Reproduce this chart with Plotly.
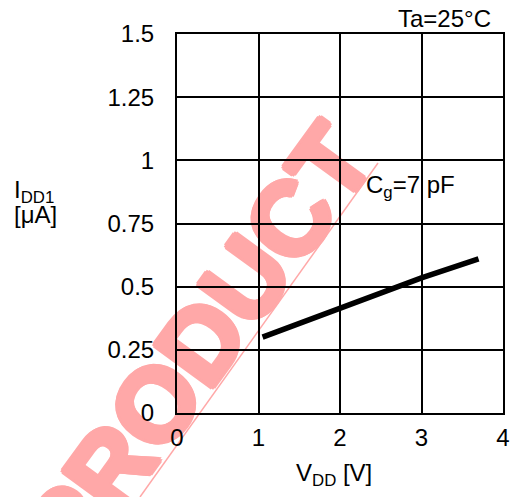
import plotly.graph_objects as go

# Data
vdd = [1.05, 2.0, 3.0, 3.7]
idd1 = [0.30, 0.415, 0.535, 0.61]

x_ticks = [0, 1, 2, 3, 4]
y_ticks = [0, 0.25, 0.5, 0.75, 1, 1.25, 1.5]
y_tick_text = ["0", "0.25", "0.5", "0.75", "1", "1.25", "1.5"]

FONT = "Liberation Sans, Arial, sans-serif"
PINK = "rgb(255,168,168)"
THICK = ", ".join(f"{dx}px {dy}px 0 {PINK}" for dx, dy in
                  [(3, 0), (-3, 0), (0, 3), (0, -3), (2, 2), (-2, -2), (2, -2), (-2, 2)])

fig = go.Figure()
fig.add_trace(go.Scatter(
    x=vdd, y=idd1, mode="lines",
    line=dict(color="black", width=5.5),
    showlegend=False, hoverinfo="skip",
))

fig.update_layout(
    template="none",
    width=513, height=497,
    margin=dict(l=177, r=10, t=34, b=84),
    paper_bgcolor="white", plot_bgcolor="white",
    font=dict(family=FONT, size=24, color="black"),
    showlegend=False,
    xaxis=dict(
        range=[0, 4], tickvals=x_ticks, ticktext=[str(v) for v in x_ticks],
        showgrid=True, gridcolor="black", gridwidth=2, automargin=False,
        zeroline=False, showline=True, linecolor="black", linewidth=2, mirror=True,
        ticks="", ticklabelstandoff=2, tickfont=dict(size=24),
    ),
    yaxis=dict(
        range=[0, 1.5], tickvals=y_ticks, ticktext=y_tick_text,
        showgrid=True, gridcolor="black", gridwidth=2, automargin=False,
        zeroline=False, showline=True, linecolor="black", linewidth=2, mirror=True,
        ticks="", ticklabelstandoff=16, tickfont=dict(size=24),
    ),
)

# Watermark (drawn beneath the grid)
fig.add_shape(
    type="line", xref="paper", yref="paper",
    x0=-0.1135, y0=-0.2216, x1=0.6166, y1=0.6596,
    line=dict(color=PINK, width=1.5), layer="below",
)
fig.add_shape(
    type="rect", xref="paper", yref="paper",
    x0=0.040, y0=0.193, x1=0.040, y1=0.193,
    line=dict(width=0), fillcolor="rgba(0,0,0,0)", layer="below",
    label=dict(text="<b>PRODUCT</b>", textangle=-54,
               font=dict(family=FONT, size=104, color=PINK, weight="bold",
                         shadow=THICK)),
)

fig.add_annotation(text="Ta=25°C", xref="paper", yref="paper",
                   x=0.969, y=1.0396, xanchor="right", yanchor="middle",
                   showarrow=False, font=dict(size=24))
fig.add_annotation(text="C<sub>g</sub>=7 pF", xref="x", yref="y",
                   x=2.3, y=0.898, xanchor="left", yanchor="middle",
                   showarrow=False, font=dict(size=24))
fig.add_annotation(text="I<sub>DD1</sub>", xref="paper", yref="paper",
                   x=-0.507, y=0.585, xanchor="left", yanchor="middle",
                   showarrow=False, font=dict(size=24))
fig.add_annotation(text="[μA]", xref="paper", yref="paper",
                   x=-0.507, y=0.525, xanchor="left", yanchor="middle",
                   showarrow=False, font=dict(size=24))
fig.add_annotation(text="V<sub>DD</sub> [V]", xref="paper", yref="paper",
                   x=0.483, y=-0.161, xanchor="center", yanchor="middle",
                   showarrow=False, font=dict(size=24))

fig.write_html("out.html", config={"displayModeBar": False},
               post_script="document.body.style.margin='0';")
